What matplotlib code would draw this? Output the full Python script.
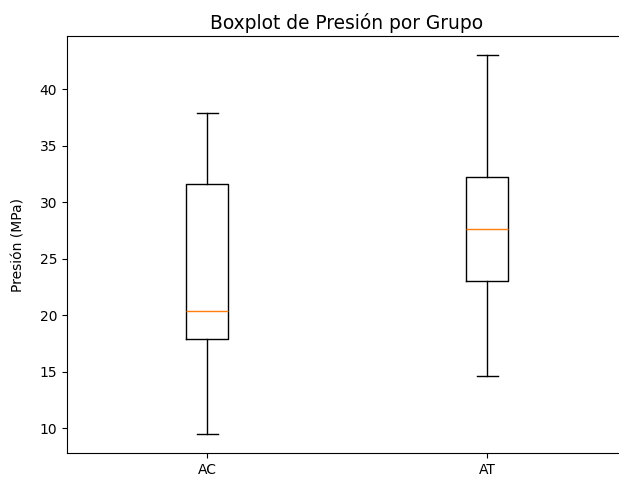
import matplotlib
matplotlib.use("Agg")
import matplotlib.pyplot as plt

# Estadísticos (MPa)
grupos = ["AC", "AT"]
whisker_low = [9.47, 14.60]
q1 = [17.88, 23.01]
mediana = [20.38, 27.64]
q3 = [31.65, 32.24]
whisker_high = [37.88, 43.04]

stats = []
for i, g in enumerate(grupos):
    stats.append({
        "label": g,
        "whislo": whisker_low[i],
        "q1": q1[i],
        "med": mediana[i],
        "q3": q3[i],
        "whishi": whisker_high[i],
        "fliers": [],
    })

fig = plt.figure(figsize=(6.19, 4.79), dpi=100)
# el original está recortado por la derecha
ax = fig.add_axes([67 / 619, 1 - 453 / 479, 560 / 619, 417 / 479])
ax.bxp(stats, positions=[1, 2], widths=0.15, showfliers=False)
ax.set_xlim(0.5, 2.5)
ax.spines["right"].set_visible(False)
ax.set_title("Boxplot de Presión por Grupo", fontsize=13.4, pad=5)
ax.set_ylabel("Presión (MPa)", labelpad=10)

fig.savefig("out.png", dpi=100)
